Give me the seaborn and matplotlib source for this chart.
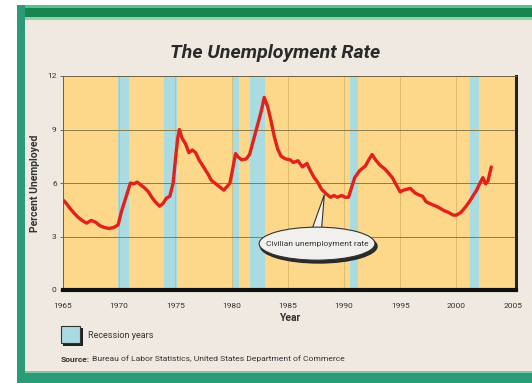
import matplotlib
matplotlib.use("Agg")
import matplotlib.pyplot as plt
import pandas as pd
import seaborn as sns
from matplotlib.patches import Rectangle, Ellipse, Polygon

# Civilian unemployment rate, percent
years = [1965.0, 1965.3, 1965.6, 1966.0, 1966.3, 1966.7, 1967.1, 1967.5, 1967.9,
         1968.3, 1968.7, 1969.1, 1969.5, 1969.9, 1970.2, 1970.5, 1970.8, 1971.0,
         1971.3, 1971.6, 1971.9, 1972.3, 1972.6, 1972.9, 1973.2, 1973.6, 1973.9,
         1974.2, 1974.5, 1974.8, 1975.0, 1975.2, 1975.35, 1975.6, 1975.9, 1976.2,
         1976.5, 1976.8, 1977.1, 1977.5, 1977.9, 1978.2, 1978.6, 1979.0, 1979.3,
         1979.6, 1979.85, 1980.1, 1980.35, 1980.6, 1980.9, 1981.3, 1981.6, 1981.9,
         1982.2, 1982.5, 1982.7, 1982.9, 1983.2, 1983.5, 1983.8, 1984.1, 1984.4,
         1984.8, 1985.2, 1985.5, 1985.9, 1986.3, 1986.7, 1987.0, 1987.3, 1987.7,
         1988.0, 1988.4, 1988.8, 1989.1, 1989.4, 1989.8, 1990.1, 1990.4, 1990.7,
         1990.95, 1991.4, 1991.9, 1992.2, 1992.5, 1992.8, 1993.2, 1993.6, 1993.9,
         1994.3, 1994.6, 1995.0, 1995.3, 1995.6, 1995.9, 1996.3, 1996.6, 1997.0,
         1997.3, 1997.8, 1998.2, 1998.5, 1998.9, 1999.3, 1999.7, 2000.0, 2000.4,
         2000.8, 2001.1, 2001.5, 2001.8, 2002.1, 2002.35, 2002.6, 2002.8, 2003.1]
rate = [5.05, 4.85, 4.6, 4.3, 4.1, 3.9, 3.75, 3.9, 3.8,
        3.6, 3.5, 3.45, 3.5, 3.65, 4.4, 5.0, 5.6, 6.0,
        5.95, 6.05, 5.9, 5.7, 5.5, 5.2, 4.95, 4.7, 4.85,
        5.15, 5.25, 6.0, 7.3, 8.5, 9.0, 8.5, 8.2, 7.7,
        7.85, 7.7, 7.3, 6.9, 6.5, 6.15, 5.95, 5.75, 5.6,
        5.8, 6.0, 6.8, 7.65, 7.45, 7.3, 7.35, 7.6, 8.3,
        9.0, 9.7, 10.2, 10.8, 10.3, 9.5, 8.6, 7.9, 7.5,
        7.35, 7.3, 7.15, 7.25, 6.9, 7.1, 6.7, 6.35, 6.0,
        5.65, 5.4, 5.2, 5.3, 5.2, 5.3, 5.2, 5.2, 5.8,
        6.3, 6.7, 6.95, 7.3, 7.6, 7.3, 7.0, 6.8, 6.6,
        6.3, 5.95, 5.5, 5.6, 5.65, 5.7, 5.45, 5.35, 5.25,
        4.95, 4.8, 4.7, 4.6, 4.45, 4.35, 4.2, 4.2, 4.35,
        4.65, 4.9, 5.3, 5.6, 6.0, 6.3, 5.95, 6.1, 6.9]

# Recession periods (start, end)
recession_start = [1969.9, 1973.95, 1980.0, 1981.6, 1990.5, 2001.25]
recession_end = [1970.9, 1975.15, 1980.65, 1982.95, 1991.2, 2002.0]

x_ticks = [1965, 1970, 1975, 1980, 1985, 1990, 1995, 2000, 2005]
y_ticks = [0, 3, 6, 9, 12]

df = pd.DataFrame({"Year": years, "Rate": rate})

sns.set_style("white")
plt.rcParams["font.family"] = ["Roboto", "DejaVu Sans"]

W, H = 532, 383
fig = plt.figure(figsize=(W / 100, H / 100), dpi=100)
fig.patch.set_facecolor("#efe9e2")


def frect(x0, y0, x1, y1, color, z=0):
    """Rectangle in pixel coordinates (origin top-left)."""
    fig.patches.append(Rectangle((x0 / W, 1 - y1 / H), (x1 - x0) / W, (y1 - y0) / H,
                                 transform=fig.transFigure, facecolor=color,
                                 edgecolor="none", zorder=z))


# outer white margin and green frame
frect(0, 0, 17, H, "white")
frect(0, 0, W, 5, "white")
frect(17, 5, W, 19, "#16854f")
frect(17, 5, W, 8, "#5cbf8f")
frect(17, 17, W, 20, "#8fd1ad")
frect(17, 5, 25, H, "#2b9c77")
frect(17, 371, W, H, "#2b9c77")
frect(25, 371, W, 373, "#7cc7a5")

ax = fig.add_axes([63 / W, 1 - 290 / H, (516 - 63) / W, (290 - 76) / H])
ax.set_facecolor("#fdd88a")

for s, e in zip(recession_start, recession_end):
    ax.axvspan(s, e, color="#a9dbe0", lw=0, zorder=0.5)

for y in y_ticks[1:-1]:
    ax.axhline(y, color="#8c7c4c", lw=0.7, zorder=1)
for x in x_ticks[1:-1]:
    ax.axvline(x, color="#d9b766", lw=0.6, zorder=0.8)

sns.lineplot(data=df, x="Year", y="Rate", ax=ax, color="#e3211b", lw=2.4, zorder=3)

ax.set_xlim(1965, 2005.3)
ax.set_ylim(0, 12)
ax.set_xticks(x_ticks)
ax.set_yticks(y_ticks)
ax.set_xticklabels([str(v) for v in x_ticks], fontsize=6, color="#333333")
ax.set_yticklabels([str(v) for v in y_ticks], fontsize=6, color="#333333")
ax.tick_params(axis="x", length=0, pad=9)
ax.tick_params(axis="y", length=2.5, width=0.6, color="#555555", pad=2, left=True)
ax.set_xlabel("Year", fontsize=7.5, fontweight="bold", color="#333333", labelpad=3)
ax.set_ylabel("Percent Unemployed", fontsize=7.5, fontweight="bold", color="#333333",
              labelpad=5)

for side in ("left", "top"):
    ax.spines[side].set_color("#6d6040")
    ax.spines[side].set_linewidth(0.7)
ax.spines["bottom"].set_color("#111111")
ax.spines["bottom"].set_linewidth(3.0)
ax.spines["right"].set_color("#222222")
ax.spines["right"].set_linewidth(2.2)

# callout for the line
tip = (1988.25, 5.35)
ax.add_patch(Polygon([(1987.15, 3.4), (1988.0, 3.4), tip], closed=True,
                     facecolor="#f4f2ee", edgecolor="#333333", lw=0.8, zorder=4))
ax.add_patch(Ellipse((1987.75, 2.45), 10.5, 1.95, facecolor="#2a2a2a",
                     edgecolor="none", zorder=4.5))
ax.add_patch(Ellipse((1987.6, 2.6), 10.3, 1.85, facecolor="#f2f0ec",
                     edgecolor="#333333", lw=0.8, zorder=5))
ax.text(1987.6, 2.6, "Civilian unemployment rate", ha="center", va="center",
        fontsize=6.1, color="#333333", zorder=6)

fig.text(275 / W, 1 - 53 / H, "The Unemployment Rate", ha="center", va="center",
         fontsize=14, fontweight="bold", fontstyle="italic", color="#2a2a2a")

# legend swatch
frect(63, 328, 83, 346, "#222222", z=2)
frect(61, 326, 80, 343, "#a9dbe0", z=3)
fig.patches.append(Rectangle((61 / W, 1 - 343 / H), 19 / W, 17 / H,
                             transform=fig.transFigure, facecolor="none",
                             edgecolor="#333333", lw=0.8, zorder=4))
fig.text(88 / W, 1 - 335 / H, "Recession years", ha="left", va="center",
         fontsize=6.5, color="#333333")

src_label = fig.text(61 / W, 1 - 359 / H, "Source:", ha="left", va="center",
                     fontsize=6.1, fontweight="bold", color="#333333")
fig.canvas.draw()
bb = src_label.get_window_extent(renderer=fig.canvas.get_renderer())
fig.text((bb.x1 + 2) / W, 1 - 359 / H,
         "Bureau of Labor Statistics, United States Department of Commerce",
         ha="left", va="center", fontsize=6.1, color="#333333")

fig.savefig("out.png", dpi=100, facecolor=fig.get_facecolor())
